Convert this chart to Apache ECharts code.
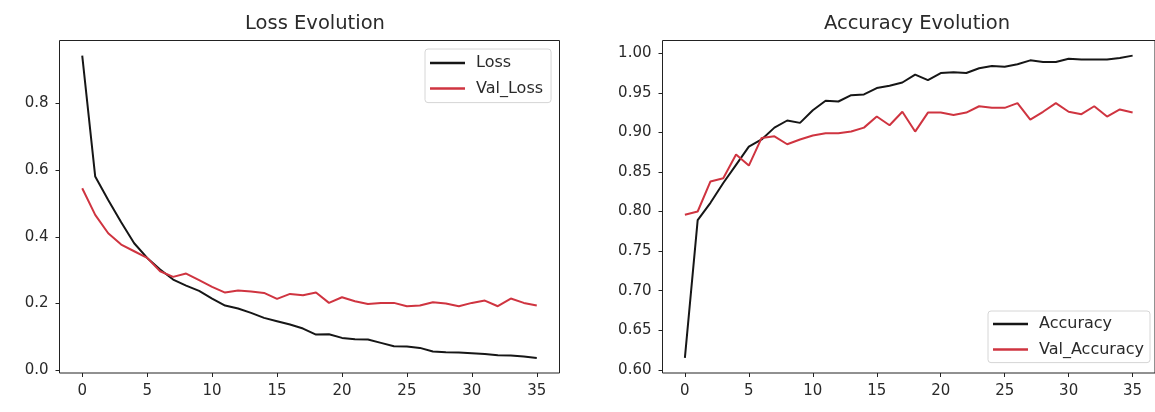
<!DOCTYPE html>
<html>
<head>
<meta charset="utf-8">
<script src="https://cdn.jsdelivr.net/npm/echarts@6/dist/echarts.min.js"></script>
<style>
html,body{margin:0;padding:0;background:#fff;}
#c{width:1155px;height:412px;}
</style>
</head>
<body>
<div id="c"></div>
<script>
const epochs = Array.from({length: 36}, (_, i) => i);
const loss = [0.944,0.581,0.511,0.444,0.381,0.337,0.302,0.272,0.254,0.238,0.215,0.194,0.185,0.172,0.157,0.147,0.137,0.125,0.107,0.108,0.097,0.093,0.092,0.082,0.072,0.071,0.067,0.056,0.054,0.053,0.051,0.049,0.045,0.044,0.041,0.037];
const valLoss = [0.546,0.466,0.411,0.377,0.357,0.337,0.297,0.280,0.290,0.270,0.250,0.233,0.239,0.236,0.232,0.214,0.229,0.225,0.233,0.202,0.219,0.207,0.199,0.202,0.202,0.192,0.194,0.204,0.200,0.192,0.202,0.209,0.192,0.215,0.202,0.194];
const accuracy = [0.615,0.789,0.811,0.836,0.859,0.882,0.891,0.906,0.915,0.912,0.928,0.940,0.939,0.947,0.948,0.956,0.959,0.963,0.973,0.966,0.975,0.976,0.975,0.981,0.984,0.983,0.986,0.991,0.989,0.989,0.993,0.992,0.992,0.992,0.994,0.997];
const valAccuracy = [0.796,0.800,0.838,0.842,0.872,0.858,0.893,0.895,0.885,0.891,0.896,0.899,0.899,0.901,0.906,0.920,0.909,0.926,0.901,0.925,0.925,0.922,0.925,0.933,0.931,0.931,0.937,0.916,0.926,0.937,0.926,0.923,0.933,0.920,0.929,0.925];
const xTicks = [0,5,10,15,20,25,30,35];
const lossTicks = [0,0.2,0.4,0.6,0.8];
const accTicks = [0.60,0.65,0.70,0.75,0.80,0.85,0.90,0.95,1.00];

const BLACK = '#161616';
const RED = '#cf3440';
const TXT = '#2a2a2a';
const FONT = 'DejaVu Sans';
const TICK_FS = 15;

function pairs(ys){ return epochs.map((x,i)=>[x, ys[i]]); }
function lim(arr){ const mn=Math.min(...arr), mx=Math.max(...arr), m=(mx-mn)*0.05; return [mn-m, mx+m]; }
const lossLim = lim(loss.concat(valLoss));
const accLim = lim(accuracy.concat(valAccuracy));

function xAxis(gi){
  return {
    type:'value', gridIndex:gi, min:-1.75, max:36.75,
    axisLine:{show:false, onZero:false},
    axisTick:{show:true, length:4, customValues:xTicks, lineStyle:{color:'#222'}},
    axisLabel:{customValues:xTicks, margin:11, color:TXT, fontFamily:FONT, fontSize:TICK_FS},
    splitLine:{show:false}
  };
}
function yAxis(gi, l, ticks, dec){
  return {
    type:'value', gridIndex:gi, min:l[0], max:l[1],
    axisLine:{show:false, onZero:false},
    axisTick:{show:true, length:4, customValues:ticks, lineStyle:{color:'#222'}},
    axisLabel:{customValues:ticks, margin:11, color:TXT, fontFamily:FONT, fontSize:TICK_FS,
      formatter:(v)=>Number(v).toFixed(dec)},
    splitLine:{show:false}
  };
}
function line(name, data, color, xi){
  return {name, type:'line', xAxisIndex:xi, yAxisIndex:xi, data:pairs(data),
    symbol:'none', showSymbol:false, lineStyle:{color, width:2}, itemStyle:{color},
    emphasis:{disabled:true}, animation:false};
}
const legendBase = {
  orient:'vertical', icon:'rect', itemWidth:35, itemHeight:2.5, itemGap:9.6,
  backgroundColor:'rgba(255,255,255,0.9)', borderColor:'#d6d6d6', borderWidth:1, borderRadius:3,
  textStyle:{color:TXT, fontFamily:FONT, fontSize:16, lineHeight:16, padding:[0,0,0,6]}
};

const chart = echarts.init(document.getElementById('c'), null, {renderer:'canvas'});
chart.setOption({
  animation:false,
  title:[
    {text:'Loss Evolution', left:310, top:9, textAlign:'center', textStyle:{fontFamily:FONT, fontSize:19.5, fontWeight:'normal', color:TXT}},
    {text:'Accuracy Evolution', left:912, top:9, textAlign:'center', textStyle:{fontFamily:FONT, fontSize:19.5, fontWeight:'normal', color:TXT}}
  ],
  legend:[
    Object.assign({}, legendBase, {data:['Loss','Val_Loss'], left:425, top:49, padding:[6,8,6,5]}),
    Object.assign({}, legendBase, {data:['Accuracy','Val_Accuracy'], left:988, top:311, padding:[5,6,5,5]})
  ],
  grid:[
    {left:59.5, top:40.5, width:500, height:332.5, show:true, borderColor:'#222', borderWidth:1, backgroundColor:'#fff'},
    {left:662.5, top:40.5, width:498, height:332.5, show:true, borderColor:'#222', borderWidth:1, backgroundColor:'#fff'}
  ],
  xAxis:[xAxis(0), xAxis(1)],
  yAxis:[yAxis(0, lossLim, lossTicks, 1), yAxis(1, accLim, accTicks, 2)],
  series:[
    line('Loss', loss, BLACK, 0),
    line('Val_Loss', valLoss, RED, 0),
    line('Accuracy', accuracy, BLACK, 1),
    line('Val_Accuracy', valAccuracy, RED, 1)
  ]
});
</script>
</body>
</html>
